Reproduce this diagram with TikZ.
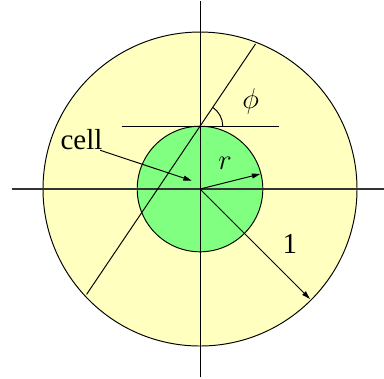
\documentclass[tikz,border=0pt]{standalone}
\usepackage{fontspec}
\setmainfont{Liberation Serif}
\usetikzlibrary{arrows.meta}
\definecolor{cellyellow}{RGB}{255,255,192}
\definecolor{cellgreen}{RGB}{128,255,128}
\begin{document}
\begin{tikzpicture}[x=4cm,y=4cm,
  line width=0.7pt,
  axis/.style={line width=0.8pt,draw=black!80},
  arr/.style={-{Triangle[length=6pt,width=3.6pt]}},
  lbl/.style={inner sep=0pt,font=\fontsize{21}{24}\selectfont}]
\useasboundingbox (-1.274,-1.204) rectangle (1.172,1.204);
\coordinate (O) at (0,0);
\coordinate (T) at (0,0.4);
% outer and inner disks
\draw[fill=cellyellow] (O) circle (1);
\draw[fill=cellgreen] (O) circle (0.4);
% axes
\draw[axis] (-1.2,0) -- (1.2,0);
\draw (0,-1.2) -- (0,1.2);
% tangent line and chord
\coordinate (tl) at (-0.5,0.4);
\coordinate (tr) at (0.5,0.4);
\draw (tl) -- (tr);
\path (T) ++(56:0.632) coordinate (chA);
\path (T) ++(236:1.292) coordinate (chB);
\draw (chB) -- (chA);
% angle arc
\draw (T) ++(0.145,0) arc (0:56:0.145);
\node[lbl] (phi) at (0.323,0.556) {$\phi$};
% radius r
\coordinate (rtip) at (14:0.395);
\draw[arr] (O) -- (rtip);
\node[lbl] (r) at (0.16,0.164) {$r$};
% radius 1
\coordinate (onetip) at (-45:0.99);
\draw[arr] (O) -- (onetip);
\node[lbl] (one) at (0.573,-0.35) {1};
% cell label
\node[lbl] (cell) at (-0.755,0.315) {cell};
\coordinate (celltip) at (-0.053,0.053);
\draw[arr] ([xshift=-2pt]cell.south east) -- (celltip);
\end{tikzpicture}
\end{document}
